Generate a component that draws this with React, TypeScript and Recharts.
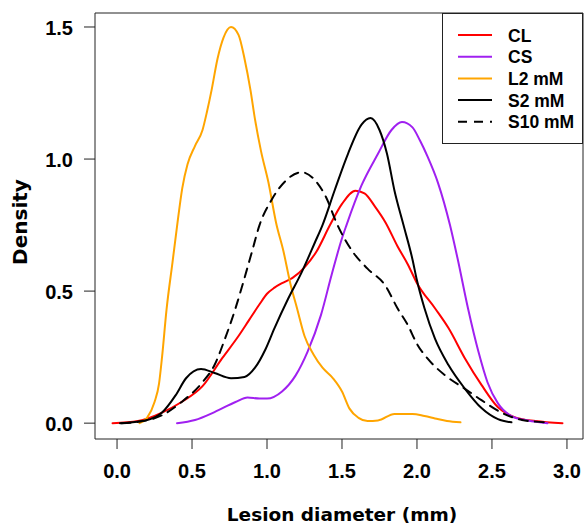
import { LineChart, Line, XAxis, YAxis, ReferenceArea } from "recharts";

type Pt = [number, number];

// axis setup (R-style, 4% padding around data range)
const X_TICKS = [0, 0.5, 1, 1.5, 2, 2.5, 3];
const Y_TICKS = [0, 0.5, 1, 1.5];
const X_DOMAIN: [number, number] = [-0.147, 3.107];
const Y_DOMAIN: [number, number] = [-0.06, 1.553];

// density estimates: [lesion diameter, density]
const clPts: Pt[] = [
  [-0.03, 0], [0.14, 0.008], [0.3, 0.04], [0.43, 0.08], [0.57, 0.14], [0.7, 0.245],
  [0.81, 0.33], [0.88, 0.39], [0.95, 0.45], [1.0, 0.49], [1.05, 0.513], [1.1, 0.53],
  [1.17, 0.55], [1.25, 0.59], [1.33, 0.65], [1.42, 0.75], [1.5, 0.83], [1.59, 0.88],
  [1.65, 0.87], [1.72, 0.82], [1.79, 0.76], [1.87, 0.67], [1.94, 0.6], [2.0, 0.53],
  [2.12, 0.435], [2.21, 0.36], [2.32, 0.245], [2.43, 0.145], [2.54, 0.06], [2.65, 0.023],
  [2.79, 0.008], [2.97, 0],
];

const csPts: Pt[] = [
  [0.4, 0], [0.52, 0.012], [0.65, 0.042], [0.79, 0.08], [0.87, 0.097], [0.95, 0.093],
  [1.0, 0.093], [1.1, 0.12], [1.19, 0.18], [1.27, 0.27], [1.36, 0.41], [1.43, 0.56],
  [1.5, 0.7], [1.53, 0.75], [1.63, 0.9], [1.74, 1.02], [1.83, 1.11], [1.9, 1.14],
  [1.97, 1.12], [2.02, 1.07], [2.07, 1.01], [2.14, 0.91], [2.22, 0.75], [2.27, 0.625],
  [2.34, 0.435], [2.41, 0.27], [2.47, 0.155], [2.54, 0.075], [2.63, 0.027], [2.74, 0.01],
  [2.87, 0],
];

const l2Pts: Pt[] = [
  [0.15, 0], [0.2, 0.02], [0.25, 0.08], [0.28, 0.15], [0.3, 0.25], [0.33, 0.43],
  [0.37, 0.61], [0.4, 0.745], [0.435, 0.89], [0.47, 0.98], [0.52, 1.05], [0.57, 1.11],
  [0.6, 1.18], [0.63, 1.26], [0.67, 1.38], [0.71, 1.46], [0.76, 1.5], [0.81, 1.47],
  [0.85, 1.38], [0.89, 1.26], [0.92, 1.15], [0.96, 1.03], [1.01, 0.91], [1.06, 0.76],
  [1.11, 0.65], [1.155, 0.53], [1.2, 0.435], [1.25, 0.33], [1.31, 0.26], [1.37, 0.21],
  [1.44, 0.17], [1.5, 0.12], [1.55, 0.055], [1.61, 0.02], [1.67, 0.008], [1.74, 0.01],
  [1.85, 0.035], [1.97, 0.035], [2.05, 0.027], [2.12, 0.018], [2.2, 0.008], [2.29, 0.003],
];

const s2Pts: Pt[] = [
  [0.02, 0], [0.19, 0.01], [0.3, 0.04], [0.39, 0.105], [0.46, 0.17], [0.56, 0.205],
  [0.65, 0.19], [0.76, 0.17], [0.85, 0.175], [0.92, 0.21], [0.99, 0.28], [1.05, 0.36],
  [1.14, 0.47], [1.23, 0.57], [1.32, 0.685], [1.37, 0.75], [1.45, 0.88], [1.54, 1.02],
  [1.63, 1.13], [1.69, 1.155], [1.75, 1.11], [1.8, 1.02], [1.85, 0.88], [1.91, 0.75],
  [1.97, 0.62], [2.0, 0.54], [2.05, 0.435], [2.12, 0.32], [2.21, 0.22], [2.32, 0.13],
  [2.43, 0.057], [2.54, 0.015], [2.63, 0.003],
];

const s10Pts: Pt[] = [
  [0.03, 0], [0.14, 0.005], [0.3, 0.03], [0.43, 0.08], [0.57, 0.155], [0.65, 0.22],
  [0.72, 0.32], [0.79, 0.435], [0.85, 0.55], [0.9, 0.65], [0.95, 0.75], [1.03, 0.845],
  [1.12, 0.915], [1.23, 0.95], [1.32, 0.92], [1.39, 0.86], [1.47, 0.75], [1.57, 0.65],
  [1.67, 0.585], [1.79, 0.52], [1.87, 0.435], [1.94, 0.37], [2.0, 0.3], [2.07, 0.245],
  [2.19, 0.18], [2.32, 0.13], [2.43, 0.087], [2.57, 0.038], [2.7, 0.012], [2.87, 0.003],
];

const SERIES = [
  { name: "CL", pts: clPts, color: "#FF0000", dash: undefined },
  { name: "CS", pts: csPts, color: "#A020F0", dash: undefined },
  { name: "L2 mM", pts: l2Pts, color: "#FFA500", dash: undefined },
  { name: "S2 mM", pts: s2Pts, color: "#000000", dash: undefined },
  { name: "S10 mM", pts: s10Pts, color: "#000000", dash: "9 7" },
];

const ARIAL = "'Liberation Sans', Arial, Helvetica, sans-serif";
const WIDE = "'DejaVu Sans', Verdana, sans-serif";

const tickStyle = { fill: "#000", fontSize: 20, fontWeight: "bold", fontFamily: ARIAL };

function XTitle(props: any) {
  const vb = props.viewBox;
  return (
    <text
      x={vb.x + vb.width / 2 + 3}
      y={vb.y + vb.height - 6}
      textAnchor="middle"
      fontFamily={WIDE}
      fontWeight="bold"
      fontSize={18.5}
      fill="#000"
    >
      Lesion diameter (mm)
    </text>
  );
}

function YTitle(props: any) {
  const vb = props.viewBox;
  const cx = 27;
  const cy = vb.y + vb.height / 2 - 4;
  return (
    <text
      x={cx}
      y={cy}
      transform={`rotate(-90 ${cx} ${cy})`}
      textAnchor="middle"
      fontFamily={WIDE}
      fontWeight="bold"
      fontSize={20}
      fill="#000"
    >
      Density
    </text>
  );
}

function LegendBox() {
  return (
    <div
      style={{
        position: "absolute",
        left: 442,
        top: 13,
        width: 141,
        height: 131,
        boxSizing: "border-box",
        border: "1px solid #222",
        background: "#fff",
      }}
    >
      <svg width={139} height={129} style={{ display: "block" }}>
        {SERIES.map((s, i) => {
          const y = 21 + i * 21.7;
          return (
            <g key={s.name}>
              <line
                x1={15}
                x2={49}
                y1={y}
                y2={y}
                stroke={s.color}
                strokeWidth={2}
                strokeDasharray={s.dash}
              />
              <text
                x={65}
                y={y + 6.5}
                fontFamily={ARIAL}
                fontWeight="bold"
                fontSize={17.5}
                fill="#000"
              >
                {s.name}
              </text>
            </g>
          );
        })}
      </svg>
    </div>
  );
}

export default function App() {
  return (
    <div style={{ position: "absolute", left: 0, top: 0, width: 585, height: 527, background: "#fff" }}>
      <LineChart width={585} height={527} margin={{ top: 13, right: 2, bottom: 0, left: 0 }}>
        <XAxis
          type="number"
          dataKey="x"
          domain={X_DOMAIN}
          ticks={X_TICKS}
          allowDataOverflow
          interval={0}
          height={88}
          tickSize={10}
          tickMargin={15}
          axisLine={false}
          tickLine={{ stroke: "#222" }}
          tick={tickStyle}
          tickFormatter={(v: number) => v.toFixed(1)}
          label={XTitle}
        />
        <YAxis
          type="number"
          dataKey="y"
          domain={Y_DOMAIN}
          ticks={Y_TICKS}
          allowDataOverflow
          interval={0}
          width={95}
          tickSize={11}
          tickMargin={11}
          axisLine={false}
          tickLine={{ stroke: "#222" }}
          tick={{ ...tickStyle, dy: 1 }}
          tickFormatter={(v: number) => v.toFixed(1)}
          label={YTitle}
        />
        <ReferenceArea
          x1={X_DOMAIN[0]}
          x2={X_DOMAIN[1]}
          y1={Y_DOMAIN[0]}
          y2={Y_DOMAIN[1]}
          fill="none"
          fillOpacity={0}
          stroke="#222"
          strokeWidth={1}
          ifOverflow="visible"
        />
        {SERIES.map((s) => (
          <Line
            key={s.name}
            name={s.name}
            data={s.pts.map(([x, y]) => ({ x, y }))}
            dataKey="y"
            type="monotone"
            stroke={s.color}
            strokeWidth={2}
            strokeDasharray={s.dash}
            strokeLinecap="round"
            dot={false}
            activeDot={false}
            isAnimationActive={false}
          />
        ))}
      </LineChart>
      <LegendBox />
    </div>
  );
}
